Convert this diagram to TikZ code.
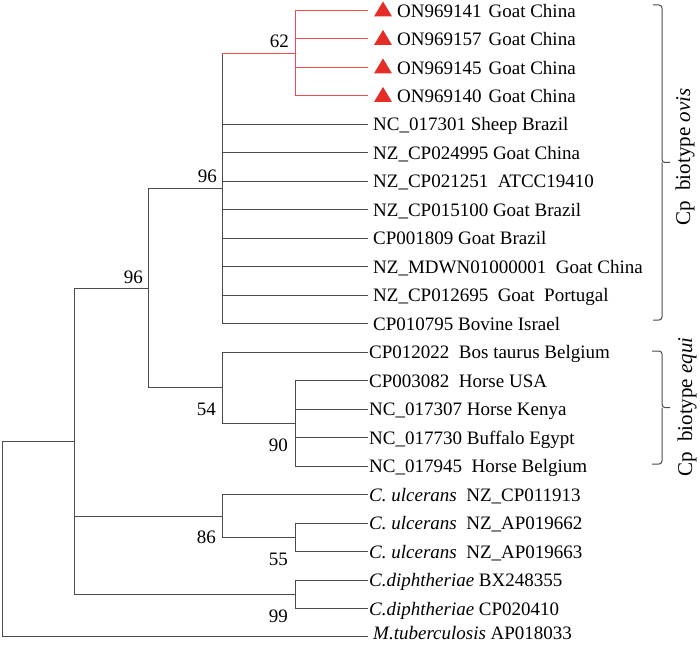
\documentclass[tikz,border=0pt]{standalone}
\usepackage{fontspec}
\setmainfont{Liberation Serif}
\usetikzlibrary{calc}
\definecolor{treeline}{RGB}{75,75,75}
\definecolor{redline}{RGB}{236,76,76}
\definecolor{redtri}{RGB}{229,45,40}
\begin{document}
\begin{tikzpicture}[x=1pt,y=-1pt,
  tree/.style={draw=treeline,line width=1pt},
  redtree/.style={draw=redline,line width=1pt},
  leaf/.style={anchor=base west,inner sep=0pt,font=\fontsize{19}{22}\selectfont},
  boot/.style={anchor=base east,inner sep=0pt,font=\fontsize{19}{22}\selectfont},
  clade/.style={rotate=90,inner sep=0pt,font=\fontsize{21}{24}\selectfont},
  brk/.style={draw=treeline,line width=1pt,rounded corners=3pt},
  tri/.style={fill=redtri}]
\useasboundingbox (0,0) rectangle (700,644);
% leaf coordinates
\coordinate (l0) at (368,10.5);
\coordinate (l1) at (368,38.98);
\coordinate (l2) at (368,67.46);
\coordinate (l3) at (368,95.94);
\coordinate (l4) at (368,124.42);
\coordinate (l5) at (368,152.9);
\coordinate (l6) at (368,181.38);
\coordinate (l7) at (368,209.86);
\coordinate (l8) at (368,238.34);
\coordinate (l9) at (368,266.82);
\coordinate (l10) at (368,295.3);
\coordinate (l11) at (368,323.78);
\coordinate (l12) at (368,352.26);
\coordinate (l13) at (368,380.74);
\coordinate (l14) at (368,409.22);
\coordinate (l15) at (368,437.7);
\coordinate (l16) at (368,466.18);
\coordinate (l17) at (368,494.66);
\coordinate (l18) at (368,523.14);
\coordinate (l19) at (368,551.62);
\coordinate (l20) at (368,580.1);
\coordinate (l21) at (368,608.58);
\coordinate (l22) at (368,636);
% internal nodes
\coordinate (A) at (295,53.22);
\coordinate (B) at (222,188.5);
\coordinate (D) at (295,423.46);
\coordinate (C) at (222,387.86);
\coordinate (E) at (148,288.18);
\coordinate (G) at (295,537.38);
\coordinate (F) at (222,516.02);
\coordinate (H) at (295,594.34);
\coordinate (I) at (74,441.26);
\coordinate (R) at (2,538.6);
% edges
\draw[tree] (R) |- (I);
\draw[tree] (R) |- (l22);
\draw[tree] (I) |- (E);
\draw[tree] (I) |- (F);
\draw[tree] (I) |- (H);
\draw[tree] (E) |- (B);
\draw[tree] (E) |- (C);
\draw[tree] (B) -- (B|-A);
\draw[redtree] (B|-A) -- (A);
\draw[redtree] (A) |- (l0);
\draw[redtree] (A) |- (l1);
\draw[redtree] (A) |- (l2);
\draw[redtree] (A) |- (l3);
\draw[tree] (B) |- (l4);
\draw[tree] (B) |- (l5);
\draw[tree] (B) |- (l6);
\draw[tree] (B) |- (l7);
\draw[tree] (B) |- (l8);
\draw[tree] (B) |- (l9);
\draw[tree] (B) |- (l10);
\draw[tree] (B) |- (l11);
\draw[tree] (C) |- (l12);
\draw[tree] (C) |- (D);
\draw[tree] (D) |- (l13);
\draw[tree] (D) |- (l14);
\draw[tree] (D) |- (l15);
\draw[tree] (D) |- (l16);
\draw[tree] (F) |- (l17);
\draw[tree] (F) |- (G);
\draw[tree] (G) |- (l18);
\draw[tree] (G) |- (l19);
\draw[tree] (H) |- (l20);
\draw[tree] (H) |- (l21);
% red triangles
\foreach \i in {0,1,2,3}{
  \fill[tri] ([shift={(6pt,-6pt)}]l\i) -- ([shift={(24pt,-6pt)}]l\i) -- ([shift={(15pt,9pt)}]l\i) -- cycle;
}
% leaf labels
\node[leaf] (t0) at ([shift={(29pt,-7pt)}]l0) {ON969141\hspace{7pt}Goat China};
\node[leaf] (t1) at ([shift={(29pt,-7pt)}]l1) {ON969157\hspace{7pt}Goat China};
\node[leaf] (t2) at ([shift={(29pt,-7pt)}]l2) {ON969145\hspace{7pt}Goat China};
\node[leaf] (t3) at ([shift={(29pt,-7pt)}]l3) {ON969140\hspace{7pt}Goat China};
\node[leaf] (t4) at ([shift={(5pt,-6.5pt)}]l4) {NC\_017301 Sheep Brazil};
\node[leaf] (t5) at ([shift={(5pt,-6.5pt)}]l5) {NZ\_CP024995 Goat China};
\node[leaf] (t6) at ([shift={(5pt,-6.5pt)}]l6) {NZ\_CP021251~ ATCC19410};
\node[leaf] (t7) at ([shift={(5pt,-6.5pt)}]l7) {NZ\_CP015100 Goat Brazil};
\node[leaf] (t8) at ([shift={(5pt,-6.5pt)}]l8) {CP001809 Goat Brazil};
\node[leaf] (t9) at ([shift={(5pt,-6.5pt)}]l9) {NZ\_MDWN01000001~ Goat China};
\node[leaf] (t10) at ([shift={(5pt,-6.5pt)}]l10) {NZ\_CP012695~ Goat~ Portugal};
\node[leaf] (t11) at ([shift={(5pt,-6.5pt)}]l11) {CP010795 Bovine Israel};
\node[leaf] (t12) at ([shift={(1pt,-6.5pt)}]l12) {CP012022~ Bos taurus Belgium};
\node[leaf] (t13) at ([shift={(1pt,-6.5pt)}]l13) {CP003082~ Horse USA};
\node[leaf] (t14) at ([shift={(1pt,-6.5pt)}]l14) {NC\_017307 Horse Kenya};
\node[leaf] (t15) at ([shift={(1pt,-6.5pt)}]l15) {NC\_017730 Buffalo Egypt};
\node[leaf] (t16) at ([shift={(1pt,-6.5pt)}]l16) {NC\_017945~ Horse Belgium};
\node[leaf] (t17) at ([shift={(1pt,-6.5pt)}]l17) {\textit{C. ulcerans}~ NZ\_CP011913};
\node[leaf] (t18) at ([shift={(1pt,-6.5pt)}]l18) {\textit{C. ulcerans}~ NZ\_AP019662};
\node[leaf] (t19) at ([shift={(1pt,-6.5pt)}]l19) {\textit{C. ulcerans}~ NZ\_AP019663};
\node[leaf] (t20) at ([shift={(1pt,-6.5pt)}]l20) {\textit{C.diphtheriae} BX248355};
\node[leaf] (t21) at ([shift={(1pt,-6.5pt)}]l21) {\textit{C.diphtheriae} CP020410};
\node[leaf] (t22) at ([shift={(5pt,-3pt)}]l22) {\textit{M.tuberculosis} AP018033};
% bootstrap values
\node[boot] (b62) at ([shift={(-6pt,6pt)}]A) {62};
\node[boot] (b96a) at ([shift={(-5pt,5.5pt)}]B) {96};
\node[boot] (b96b) at ([shift={(-5pt,5pt)}]E) {96};
\node[boot] (b54) at ([shift={(-6pt,-28pt)}]C) {54};
\node[boot] (b90) at ([shift={(-7pt,-28pt)}]D) {90};
\node[boot] (b86) at ([shift={(-6pt,-27pt)}]F) {86};
\node[boot] (b55) at ([shift={(-7pt,-28pt)}]G) {55};
\node[boot] (b99) at ([shift={(-7pt,-28pt)}]H) {99};
% brackets
\coordinate (ov1) at (653,5);
\coordinate (ovm) at (670,162.5);
\coordinate (ov2) at (653,320);
\draw[brk] (ov1) -| (662,162.5) -- (ovm);
\draw[brk] (ov2) -| (662,162.5);
\coordinate (eq1) at (652,351);
\coordinate (eqm) at (670,407.5);
\coordinate (eq2) at (652,464);
\draw[brk] (eq1) -| (662,407.5) -- (eqm);
\draw[brk] (eq2) -| (662,407.5);
\node[clade] (ovis) at (685,157) {Cp~ biotype \textit{ovis}};
\node[clade] (equi) at (687,407) {Cp~ biotype \textit{equi}};
\end{tikzpicture}
\end{document}
